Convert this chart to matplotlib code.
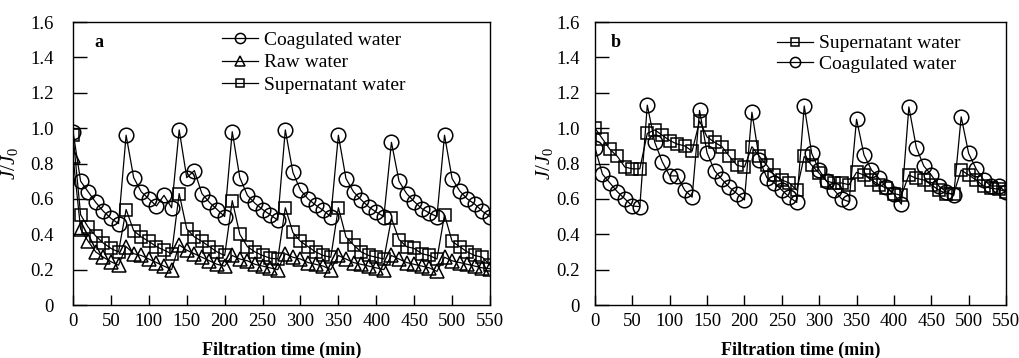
import matplotlib
matplotlib.use("Agg")
from matplotlib import pyplot as plt

plt.rcParams['font.family'] = ['Liberation Serif', 'DejaVu Serif']
plt.rcParams['mathtext.fontset'] = 'custom'
plt.rcParams['mathtext.rm'] = 'Liberation Serif'
plt.rcParams['mathtext.it'] = 'Liberation Serif:italic'

time_min = [0, 10, 20, 30, 40, 50, 60, 70, 80, 90, 100, 110, 120, 130,
            140, 150, 160, 170, 180, 190, 200, 210, 220, 230, 240, 250, 260, 270,
            280, 290, 300, 310, 320, 330, 340, 350, 360, 370, 380, 390, 400, 410,
            420, 430, 440, 450, 460, 470, 480, 490, 500, 510, 520, 530, 540, 550]

# panel a
a_coag = [0.98, 0.70, 0.64, 0.58, 0.53, 0.49, 0.46,
          0.96, 0.72, 0.64, 0.60, 0.56, 0.62, 0.55,
          0.99, 0.72, 0.76, 0.63, 0.58, 0.54, 0.50,
          0.98, 0.72, 0.62, 0.575, 0.54, 0.51, 0.48,
          0.99, 0.75, 0.65, 0.60, 0.565, 0.535, 0.50,
          0.96, 0.715, 0.64, 0.595, 0.555, 0.525, 0.50,
          0.92, 0.70, 0.63, 0.585, 0.545, 0.52, 0.50,
          0.96, 0.715, 0.645, 0.60, 0.57, 0.53, 0.50]
a_raw = [0.84, 0.43, 0.36, 0.30, 0.27, 0.245, 0.225,
         0.33, 0.29, 0.28, 0.26, 0.24, 0.22, 0.20,
         0.34, 0.31, 0.29, 0.27, 0.25, 0.23, 0.22,
         0.28, 0.26, 0.25, 0.23, 0.22, 0.21, 0.20,
         0.29, 0.27, 0.26, 0.24, 0.23, 0.22, 0.20,
         0.28, 0.26, 0.24, 0.23, 0.22, 0.21, 0.20,
         0.28, 0.26, 0.24, 0.23, 0.22, 0.21, 0.19,
         0.27, 0.25, 0.24, 0.23, 0.22, 0.21, 0.205]
a_super = [0.96, 0.51, 0.44, 0.39, 0.35, 0.32, 0.30,
           0.54, 0.42, 0.385, 0.36, 0.33, 0.31, 0.29,
           0.63, 0.43, 0.385, 0.36, 0.33, 0.30, 0.28,
           0.59, 0.40, 0.33, 0.30, 0.28, 0.265, 0.26,
           0.55, 0.41, 0.36, 0.33, 0.30, 0.28, 0.27,
           0.55, 0.385, 0.34, 0.30, 0.28, 0.27, 0.26,
           0.49, 0.37, 0.33, 0.32, 0.29, 0.28, 0.26,
           0.51, 0.36, 0.33, 0.30, 0.28, 0.27, 0.225]

# panel b
b_super = [1.00, 0.94, 0.88, 0.84, 0.78, 0.77, 0.77,
           0.97, 0.99, 0.96, 0.93, 0.91, 0.90, 0.87,
           1.04, 0.95, 0.92, 0.895, 0.84, 0.79, 0.78,
           0.895, 0.84, 0.79, 0.735, 0.707, 0.69, 0.65,
           0.84, 0.79, 0.745, 0.70, 0.69, 0.69, 0.68,
           0.75, 0.735, 0.707, 0.68, 0.66, 0.63, 0.62,
           0.735, 0.716, 0.707, 0.68, 0.65, 0.63, 0.63,
           0.763, 0.735, 0.707, 0.672, 0.66, 0.655, 0.64]
b_coag = [0.89, 0.74, 0.69, 0.64, 0.60, 0.56, 0.556,
          1.13, 0.92, 0.81, 0.73, 0.73, 0.65, 0.61,
          1.10, 0.86, 0.76, 0.71, 0.665, 0.63, 0.594,
          1.09, 0.82, 0.72, 0.69, 0.65, 0.61, 0.58,
          1.125, 0.857, 0.763, 0.70, 0.65, 0.60, 0.584,
          1.05, 0.848, 0.763, 0.716, 0.665, 0.627, 0.57,
          1.12, 0.89, 0.786, 0.735, 0.673, 0.64, 0.62,
          1.064, 0.857, 0.77, 0.707, 0.673, 0.673, 0.64]

fig = plt.figure(figsize=(10.2, 3.58), dpi=100)
ax1 = fig.add_axes([0.0716, 0.148, 0.4088, 0.7905])
ax2 = fig.add_axes([0.5833, 0.148, 0.4030, 0.7905])

style = dict(color='black', lw=0.9, mfc='none', mec='black', mew=1.1)

ax1.plot(time_min, a_coag, marker='o', ms=10.5, label='Coagulated water', **style)
ax1.plot(time_min, a_raw, marker='^', ms=10, label='Raw water', **style)
ax1.plot(time_min, a_super, marker='s', ms=9, label='Supernatant water', **style)

ax2.plot(time_min, b_super, marker='s', ms=9, label='Supernatant water', **style)
ax2.plot(time_min, b_coag, marker='o', ms=10.5, label='Coagulated water', **style)

for ax, letter, lab_x, let_x, ypad in [(ax1, 'a', -0.128, 0.052, 14), (ax2, 'b', -0.098, 0.039, 11)]:
    ax.set_xlim(0, 550)
    ax.set_ylim(0, 1.6)
    ax.set_xticks(range(0, 551, 50))
    ax.set_yticks([0, 0.2, 0.4, 0.6, 0.8, 1.0, 1.2, 1.4, 1.6])
    ax.set_yticklabels(['0', '0.2', '0.4', '0.6', '0.8', '1.0', '1.2', '1.4', '1.6'])
    ax.tick_params(axis='y', direction='in', length=10, width=1, labelsize=13.5, pad=ypad)
    ax.tick_params(axis='x', direction='in', length=7, width=1, labelsize=13.5, pad=6)
    for sp in ax.spines.values():
        sp.set_linewidth(1)
    ax.set_xlabel('Filtration time (min)', fontsize=13, fontweight='bold', labelpad=8)
    ax.set_ylabel(r'$J/J_0$', fontsize=15)
    ax.yaxis.set_label_coords(lab_x, 0.5)
    ax.text(let_x, 0.926, letter, transform=ax.transAxes,
            fontsize=13, fontweight='bold', va='center', ha='left')

ax1.legend(loc='upper left', bbox_to_anchor=(0.357, 0.967), frameon=False, fontsize=14,
           borderpad=0, borderaxespad=0, handlelength=1.85, handletextpad=0.3,
           labelspacing=0.25, markerscale=0.7)
ax2.legend(loc='upper left', bbox_to_anchor=(0.443, 0.955), frameon=False, fontsize=14,
           borderpad=0, borderaxespad=0, handlelength=1.85, handletextpad=0.3,
           labelspacing=0.15, markerscale=0.7)

fig.savefig('out.png', dpi=100)
